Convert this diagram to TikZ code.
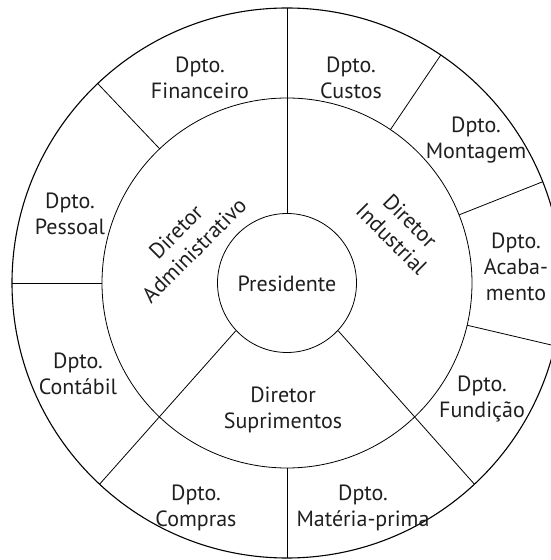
\documentclass[tikz,border=0pt]{standalone}
\usepackage{fontspec}
\setmainfont{PT Sans}
\usetikzlibrary{calc}
\begin{document}
\begin{tikzpicture}[x=1pt,y=1pt,
  ring/.style={draw=black,line width=0.8pt},
  outerring/.style={draw=black,line width=1.1pt},
  divider/.style={draw=black,line width=0.8pt},
  lbl/.style={align=center,inner sep=0pt,text=black!88,font=\fontsize{22}{26}\selectfont}]
\useasboundingbox (0,0) rectangle (551,560);
\clip (0,0) rectangle (551,560);
\coordinate (C) at (287,277);
% circles
\draw[outerring] (C) circle[radius=275pt];
\draw[ring] (C) circle[radius=185pt];
\node[circle,draw=black,line width=0.8pt,minimum size=139pt,inner sep=0pt] (pres) at (C) {};
% inner ring dividers
\draw[divider] ($(C)+(90:69.5pt)$) coordinate (t1) -- ($(C)+(90:275pt)$) coordinate (t2);
\coordinate (lli) at ($(C)+(-51.2,-47.8)$);
\coordinate (llo) at ($(C)+(-187.4,-201.2)$);
\coordinate (lri) at ($(C)+(51.2,-47.8)$);
\coordinate (lro) at ($(C)+(187.4,-201.2)$);
\draw[divider] (lli) -- (llo);
\draw[divider] (lri) -- (lro);
% outer ring dividers
\foreach \a/\n in {133.5/d1,180/d2,270/d3,-13.2/d4,21.6/d5,56/d6}{
  \draw[divider] ($(C)+(\a:185pt)$) coordinate (\n i) -- ($(C)+(\a:275pt)$) coordinate (\n o);
}
% labels
\node[lbl] (presl) at (287,276) {Presidente};
\node[lbl,rotate=45] (adm) at (185,319) {Diretor\\Administrativo};
\node[lbl,rotate=-45] (ind) at (401,330) {Diretor\\Industrial};
\node[lbl] (sup) at (283,150) {Diretor\\Suprimentos};
\node[lbl] (fin) at (200,482) {Dpto.\\Financeiro};
\node[lbl] (cus) at (351,482) {Dpto.\\Custos};
\node[lbl] (mon) at (476,420) {Dpto.\\Montagem};
\node[lbl] (aca) at (516,293) {Dpto.\\Acaba-\\mento};
\node[lbl] (fun) at (482,161) {Dpto.\\Fundição};
\node[lbl] (mat) at (363,52) {Dpto.\\Matéria-prima};
\node[lbl] (com) at (196,52) {Dpto.\\Compras};
\node[lbl] (con) at (78,186) {Dpto.\\Contábil};
\node[lbl] (pes) at (70,346) {Dpto.\\Pessoal};
\end{tikzpicture}
\end{document}
